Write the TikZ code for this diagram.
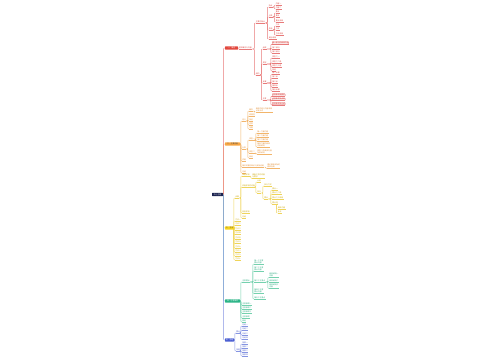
\documentclass[tikz,border=0pt]{standalone}
\usepackage{fontspec}
\newfontfamily\cjk{Noto Sans CJK SC}
\usetikzlibrary{calc}
\definecolor{rl}{HTML}{E87A7A}\definecolor{rt}{HTML}{D6403A}\definecolor{rf}{HTML}{E2473D}
\definecolor{ol}{HTML}{F2B56B}\definecolor{ot}{HTML}{E08A2E}\definecolor{of}{HTML}{F7A643}
\definecolor{yl}{HTML}{EFD45A}\definecolor{yt}{HTML}{C9A400}\definecolor{yf}{HTML}{F6D31E}
\definecolor{gl}{HTML}{74D1AE}\definecolor{gt}{HTML}{1FA679}\definecolor{gf}{HTML}{2BB487}
\definecolor{bl}{HTML}{8594E2}\definecolor{bt}{HTML}{4256C6}\definecolor{bf}{HTML}{4A5ED2}
\definecolor{navy}{HTML}{1C2450}
\pgfdeclarelayer{bg}\pgfsetlayers{bg,main}
\tikzset{
  tinyfont/.style={font=\cjk\fontsize{1.8}{2.2}\selectfont},
  lf/.style={tinyfont, text=#1t, inner xsep=.2pt, inner ysep=.3pt, anchor=south west, align=left,
    append after command={(\tikzlastnode.south west) edge[draw=#1l, line width=.35pt] (\tikzlastnode.south east)}},
  bx/.style={draw=#1l, fill=#1l!15, line width=.3pt, rounded corners=.4pt},
  lone/.style={tinyfont, inner sep=.4pt, minimum height=3.2pt, anchor=west, rounded corners=.5pt},
  cn/.style={line width=.4pt, rounded corners=.8pt}
}
\newcommand\nd[5]{\node[lf=#1] (#2) at (#3,#4) {#5};}
\newcommand\lk[3]{\draw[cn, draw=#1] let \p1=(#2), \p2=(#3) in (\p1) -- ({\x2-1.2pt},\y1) -- ({\x2-1.2pt},\y2) -- (\p2);}
\newcommand\lks[3]{\foreach \c in {#3}{\lk{#1}{#2.south east}{\c.south west}}}
\begin{document}
\begin{tikzpicture}[x=1pt,y=-1pt]
\useasboundingbox (0,0) rectangle (500,360);
% root
\node[tinyfont, fill=navy, text=white, minimum width=11pt, minimum height=3.2pt, inner sep=.3pt, rounded corners=.5pt] (root) at (217.5,194.5) {中心主题};
% level one
\node[lone, fill=rf, text=white, minimum width=13pt] (R1) at (224.8,48) {一、概述};
\node[lone, fill=of, text=black!75, minimum width=15pt] (O1) at (224.8,144) {二、主要内容};
\node[lone, fill=yf, text=black!75, minimum width=9pt] (Y1) at (224.8,228) {三、方法};
\node[lone, fill=gf, text=white, minimum width=15pt] (G1) at (224.8,301) {四、注意事项};
\node[lone, fill=bf, text=white, minimum width=9pt] (B1) at (224.8,340) {五、总结};
% ---------- red ----------
\nd{r}{r0}{238.6}{49}{基本概念与内容}
\nd{r}{rA}{255.5}{23}{主要的特点}
\nd{r}{rA1}{268.5}{7}{特点}
\nd{r}{rA2}{268.5}{17}{分类}
\nd{r}{rA3}{268.5}{30}{作用}
\nd{r}{rA4}{268.5}{39}{其他说明}
\nd{r}{ra1}{275.5}{5}{内容一}
\nd{r}{ra2}{275.5}{9}{内容二}
\nd{r}{ra3}{275.5}{13}{要点}
\nd{r}{ra4}{275.5}{17}{要点}
\nd{r}{ra5}{275.5}{22}{要点说明}
\nd{r}{ra6}{275.5}{26}{方法}
\nd{r}{ra7}{275.5}{30}{方法}
\nd{r}{ra8}{275.5}{35}{方法说明}
\nd{r}{rB}{255.5}{75}{结构}
\nd{r}{rB1}{262.5}{49}{组成}
\nd{r}{rB2}{262.5}{64}{类型}
\nd{r}{rB3}{262.5}{83}{步骤}
\nd{r}{rB4}{262.5}{100}{注意}
\node[lf=r, bx=r] (rb1) at (272,44.3) {第一部分的具体内容};
\nd{r}{rb2}{272}{49}{第二部分}
\nd{r}{rb3}{272}{53}{第三部分}
\nd{r}{rb4}{272}{58}{类型之一}
\nd{r}{rb5}{272}{63}{类型之二是}
\nd{r}{rb6}{272}{67}{类型之三是}
\nd{r}{rb7}{272}{71}{其他}
\nd{r}{rb8}{272}{74.5}{第一步骤}
\nd{r}{rb9}{272}{78.5}{第二步}
\nd{r}{rb10}{272}{83}{第三步}
\nd{r}{rb11}{272}{87}{第四步}
\nd{r}{rb12}{272}{91}{第五步骤}
\node[lf=r, bx=r] (rb13) at (272,96.3) {注意事项及要求};
\node[lf=r, bx=r] (rb14) at (272,100.6) {注意事项及说明};
\node[lf=r, bx=r] (rb15) at (272,105) {注意事项及总结};
% ---------- orange ----------
\nd{o}{oC}{242}{121}{定义}
\nd{o}{oD}{242}{149}{分类}
\nd{o}{oE}{242}{161}{作用}
\nd{o}{oF}{242}{167}{相关的理论知识与实际应用}
\nd{o}{oG}{242}{173}{总结}
\nd{o}{oc1}{249}{111}{概念}
\nd{o}{oc2}{249}{116}{原理性}
\nd{o}{oc3}{249}{121}{特征}
\nd{o}{oc4}{249}{125}{性质}
\nd{o}{oc5}{249}{129}{范围}
\nd{o}{oc6}{255.5}{112}{具体的定义内容说明\\以及补充}
\nd{o}{oD1}{249}{140}{类型一}
\nd{o}{oD2}{249}{153}{类型二}
\nd{o}{oD3}{249}{158}{其他}
\nd{o}{od1}{257}{133}{第一方面内容}
\nd{o}{od2}{257}{137}{第二方面内容}
\nd{o}{od3}{257}{141}{第三方面内容}
\nd{o}{od4}{257}{147}{第四方面的具体\\内容说明}
\nd{o}{od5}{257}{154}{类型二的具体内容\\及其说明}
\nd{o}{of1}{267}{168.5}{理论联系实际的\\具体应用}
% ---------- yellow ----------
\nd{y}{yE}{235}{198}{步骤}
\nd{y}{y1}{235}{221}{方法一}
\nd{y}{y2}{235}{225.5}{方法二}
\nd{y}{y3}{235}{230}{方法三}
\nd{y}{y4}{235}{234.5}{方法四}
\nd{y}{y5}{235}{239}{方法五}
\nd{y}{y6}{235}{243.5}{方法六}
\nd{y}{y7}{235}{248}{方法七}
\nd{y}{y8}{235}{252}{方法八}
\nd{y}{y9}{235}{256}{方法九}
\nd{y}{y10}{235}{260}{方法十}
\nd{y}{yF}{242}{176}{准备阶段}
\nd{y}{yG}{242}{187}{实施阶段的过程}
\nd{y}{yK}{242}{213}{检查阶段}
\nd{y}{yL}{242}{218}{总结}
\nd{y}{yf1}{252}{178.5}{准备工作的内容\\与要求}
\nd{y}{yg1}{257}{182}{计划}
\nd{y}{yH}{257}{193}{执行}
\nd{y}{yh1}{264}{186}{执行方式}
\nd{y}{yI}{264}{199}{要点}
\nd{y}{yi1}{272}{190}{要点一}
\nd{y}{yi2}{272}{194}{要点之二说}
\nd{y}{yi3}{272}{199}{要点之三说明}
\nd{y}{yJ}{272}{204}{要点四}
\nd{y}{yj1}{277.5}{209}{具体内容}
\nd{y}{yj2}{277.5}{213}{补充}
% ---------- green ----------
\nd{g}{gK}{242}{282}{注意要点}
\nd{g}{g1}{242}{305}{注意事项一}
\nd{g}{g2}{242}{309}{注意事项二}
\nd{g}{g3}{242}{313}{注意事项三}
\nd{g}{g4}{242}{318}{注意事项}
\nd{g}{g5}{242}{322}{其他}
\nd{g}{gk1}{254}{264}{第一个注意\\要点内容}
\nd{g}{gk2}{254}{271}{第二个注意\\要点内容}
\nd{g}{gL}{254}{282}{第三个注意点}
\nd{g}{gk4}{254}{293.5}{第四个注意\\要点内容}
\nd{g}{gk5}{254}{299}{第五个注意点}
\nd{g}{gl1}{269}{277.5}{具体说明一\\内容}
\nd{g}{gl2}{269}{282}{具体说明二}
\nd{g}{gl3}{269}{288.5}{具体说明三\\内容}
% ---------- blue ----------
\nd{b}{bM}{236}{333}{要点}
\nd{b}{bN}{236}{351}{拓展}
\nd{b}{bm1}{242}{326}{总结一}
\nd{b}{bm2}{242}{330.5}{总结二}
\nd{b}{bm3}{242}{335}{总结三}
\nd{b}{bm4}{242}{339.5}{总结四}
\nd{b}{bn1}{242}{344}{拓展一}
\nd{b}{bn2}{242}{348}{拓展二}
\nd{b}{bn3}{242}{352}{拓展三}
\nd{b}{bn4}{242}{356}{拓展四}
% ---------- connectors ----------
\begin{pgfonlayer}{bg}
\lk{ol}{root.east}{O1.west}
\lk{yl}{root.east}{Y1.west}
\lk{gl}{root.east}{G1.west}
\lk{rl}{root.east}{R1.west}
\lk{bl}{root.east}{B1.west}
% red
\lk{rl}{R1.east}{r0.south west}
\lks{rl}{r0}{rA,rB}
\lks{rl}{rA}{rA1,rA2,rA3,rA4}
\lks{rl}{rA1}{ra1,ra2}
\lks{rl}{rA2}{ra3,ra4,ra5}
\lks{rl}{rA3}{ra6,ra7,ra8}
\lks{rl}{rB}{rB1,rB2,rB3,rB4}
\lks{rl}{rB1}{rb1,rb2,rb3}
\lks{rl}{rB2}{rb4,rb5,rb6,rb7}
\lks{rl}{rB3}{rb8,rb9,rb10,rb11,rb12}
\lks{rl}{rB4}{rb13,rb14,rb15}
% orange
\foreach \c in {oC,oD,oE,oF,oG}{\lk{ol}{O1.east}{\c.south west}}
\lks{ol}{oC}{oc1,oc2,oc3,oc4,oc5}
\lks{ol}{oc1}{oc6}
\lks{ol}{oD}{oD1,oD2,oD3}
\lks{ol}{oD1}{od1,od2,od3,od4}
\lks{ol}{oD2}{od5}
\lks{ol}{oF}{of1}
% yellow
\foreach \c in {yE,y1,y2,y3,y4,y5,y6,y7,y8,y9,y10}{\lk{yl}{Y1.east}{\c.south west}}
\lks{yl}{yE}{yF,yG,yK,yL}
\lks{yl}{yF}{yf1}
\lks{yl}{yG}{yg1,yH}
\lks{yl}{yH}{yh1,yI}
\lks{yl}{yI}{yi1,yi2,yi3,yJ}
\lks{yl}{yJ}{yj1,yj2}
% green
\foreach \c in {gK,g1,g2,g3,g4,g5}{\lk{gl}{G1.east}{\c.south west}}
\lks{gl}{gK}{gk1,gk2,gL,gk4,gk5}
\lks{gl}{gL}{gl1,gl2,gl3}
% blue
\foreach \c in {bM,bN}{\lk{bl}{B1.east}{\c.south west}}
\lks{bl}{bM}{bm1,bm2,bm3,bm4}
\lks{bl}{bN}{bn1,bn2,bn3,bn4}
\end{pgfonlayer}
\end{tikzpicture}
\end{document}
